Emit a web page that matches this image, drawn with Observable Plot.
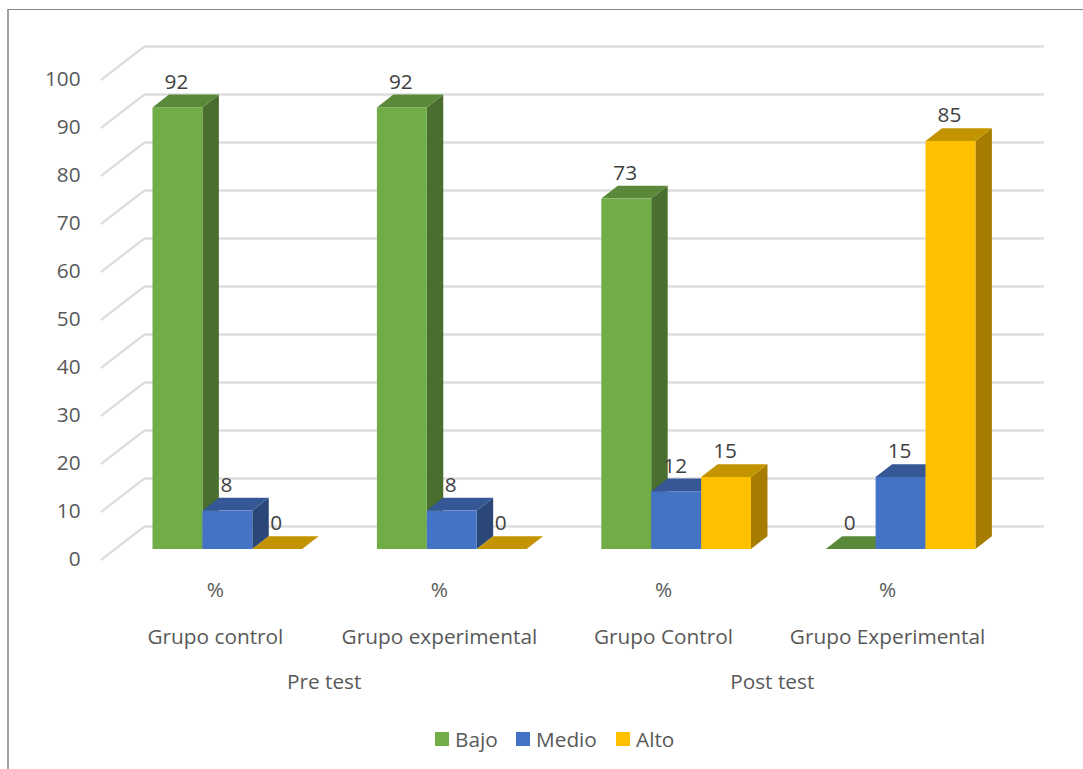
<!DOCTYPE html>
<html lang="es">
<head>
<meta charset="utf-8">
<script src="https://cdn.jsdelivr.net/npm/d3@7"></script>
<script src="https://cdn.jsdelivr.net/npm/@observablehq/plot@0.6"></script>
<style>
  html, body { margin: 0; padding: 0; background: #fff; overflow: hidden; }
  #page { position: relative; width: 1083px; height: 769px; }
  #frame { position: absolute; left: 7px; top: 9px; right: 0; bottom: 0; border-left: 2px solid #a3a3a3; border-top: 1px solid #858585; }
  #chart { position: absolute; left: 0; top: 0; }
  #chart svg { display: block; }
  #legend { position: absolute; left: 0; top: 725px; width: 1083px; height: 28px; font: 20.8px "Open Sans", sans-serif; color: #595959; }
  #legend span.item { position: absolute; top: 0; line-height: 28px; white-space: nowrap; }
  #legend i { position: absolute; left: -20px; top: 7px; width: 14px; height: 14px; }
</style>
</head>
<body>
<div id="page">
  <div id="frame"></div>
  <div id="chart"></div>
  <div id="legend"></div>
</div>
<script>
// Data
const periods = ["Pre test", "Post test"];
const groups = ["Grupo control", "Grupo experimental", "Grupo Control", "Grupo Experimental"];
const unitLabel = "%";
const seriesNames = ["Bajo", "Medio", "Alto"];
const bajo = [92, 92, 73, 0];
const medio = [8, 8, 12, 15];
const alto = [0, 0, 15, 85];
const yTicks = [0, 10, 20, 30, 40, 50, 60, 70, 80, 90, 100];

// Styles
const frontColor = {Bajo: "#70AD47", Medio: "#4472C4", Alto: "#FFC000"};
const topColor = {Bajo: "#5A8A39", Medio: "#355796", Alto: "#C49400"};
const sideColor = {Bajo: "#4A6E2E", Medio: "#2A4778", Alto: "#A67D00"};
const FONT = '"Open Sans", sans-serif';
const FS = 20.8;

// Geometry, in data units: x = one bar width, y = one percent point
const groupStep = 4.497;
const labelStep = 4.49;
const depthX = 0.33, depthY = 2.68;
const floorFront = {x: -1.03, y: -2.08};
const floorBack = {x: -0.17, y: 4.8};
const gridEnd = 17.84;
const labelLift = 5.35;

const seriesValues = {Bajo: bajo, Medio: medio, Alto: alto};
const bars = seriesNames.flatMap((s, si) => groups.map((g, gi) => ({
  id: `${s}-${gi}`, series: s, value: seriesValues[s][gi],
  x0: gi * groupStep + si, x1: gi * groupStep + si + 1
})));

const sides = bars.flatMap(b => [
  {id: b.id, series: b.series, x: b.x1, y1: 0, y2: b.value},
  {id: b.id, series: b.series, x: b.x1 + depthX, y1: depthY, y2: b.value + depthY}
]);
const tops = bars.flatMap(b => [
  {id: b.id, series: b.series, y: b.value, x1: b.x0, x2: b.x1},
  {id: b.id, series: b.series, y: b.value + depthY, x1: b.x0 + depthX, x2: b.x1 + depthX}
]);
const grid = yTicks.flatMap(t => [
  {t, x: floorFront.x, y: t + floorFront.y},
  {t, x: floorBack.x, y: t + floorBack.y},
  {t, x: gridEnd, y: t + floorBack.y}
]);

const chart = Plot.plot({
  width: 1083, height: 769,
  margin: 0,
  style: {background: "transparent", fontFamily: FONT},
  x: {type: "linear", domain: [-3.056, 18.647], range: [0, 1083], axis: null},
  y: {type: "linear", domain: [-45.83, 114.375], range: [769, 0], axis: null},
  color: {type: "identity"},
  marks: [
    Plot.line(grid, {x: "x", y: "y", z: "t", stroke: "#DEDEDE", strokeWidth: 2.4, curve: "linear"}),
    Plot.text(yTicks, {x: floorFront.x - 0.42, y: t => t + floorFront.y, text: t => String(t),
      textAnchor: "end", fontSize: FS, fill: "#595959"}),
    Plot.areaY(sides, {x: "x", y1: "y1", y2: "y2", z: "id", fill: d => sideColor[d.series], curve: "linear"}),
    Plot.areaX(tops, {y: "y", x1: "x1", x2: "x2", z: "id", fill: d => topColor[d.series], curve: "linear"}),
    Plot.rect(bars, {x1: "x0", x2: "x1", y1: 0, y2: "value", fill: d => frontColor[d.series]}),
    Plot.text(bars, {x: d => (d.x0 + d.x1) / 2 - 0.03, y: d => d.value + labelLift, text: d => String(d.value),
      fontSize: FS, fill: "#404040"}),
    Plot.text(groups, {x: (d, i) => 1.25 + i * labelStep, y: -8.54, text: () => unitLabel, fontSize: FS, fill: "#595959"}),
    Plot.text(groups, {x: (d, i) => 1.25 + i * labelStep, y: -18.33, text: d => d, fontSize: FS, fill: "#595959"}),
    Plot.text(periods, {x: (d, i) => 3.43 + i * 2 * labelStep, y: -27.7, text: d => d, fontSize: FS, fill: "#595959"})
  ]
});
document.getElementById("chart").appendChild(chart);

// Legend
const legend = document.getElementById("legend");
const legendLeft = {Bajo: 455, Medio: 536, Alto: 636};
seriesNames.forEach(s => {
  const item = document.createElement("span");
  item.className = "item";
  item.style.left = legendLeft[s] + "px";
  item.textContent = s;
  const swatch = document.createElement("i");
  swatch.style.background = frontColor[s];
  item.appendChild(swatch);
  legend.appendChild(item);
});
</script>
</body>
</html>
